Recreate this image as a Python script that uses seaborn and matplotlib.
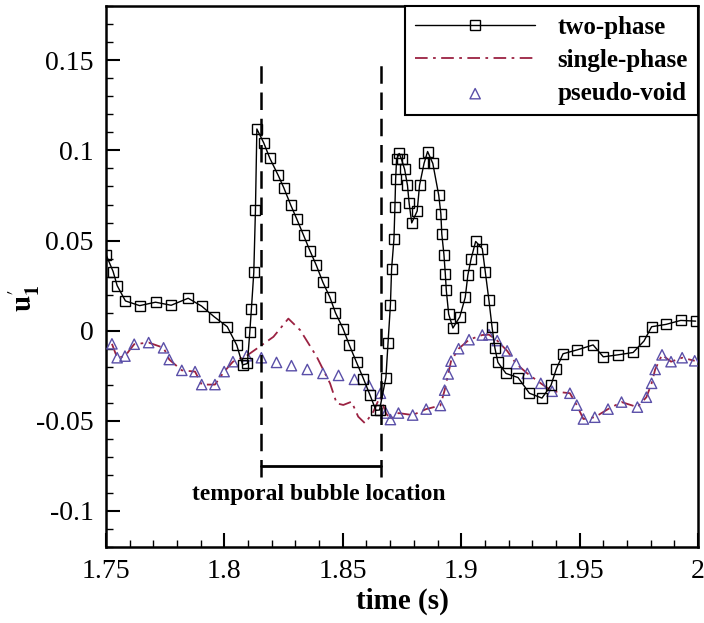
import matplotlib
matplotlib.use("Agg")
import matplotlib.pyplot as plt
import seaborn as sns
import numpy as np

sns.set_style("white")
plt.rcParams['font.family'] = ['Liberation Serif', 'DejaVu Serif']
plt.rcParams['mathtext.fontset'] = 'stix'
for k in ('text.color', 'axes.labelcolor', 'xtick.color', 'ytick.color'):
    plt.rcParams[k] = 'black'

# ---------------- data ----------------
two_t = [1.7500, 1.7530, 1.7547, 1.7582, 1.7642, 1.7709, 1.7775, 1.7847, 1.7904, 1.7957,
         1.8012, 1.8052, 1.8077, 1.8097, 1.8107, 1.8114, 1.8124, 1.8131, 1.8137, 1.8166,
         1.8192, 1.8227, 1.8251, 1.8280, 1.8306, 1.8334, 1.8361, 1.8388, 1.8416, 1.8445,
         1.8469, 1.8501, 1.8528, 1.8558, 1.8587, 1.8615, 1.8640, 1.8655, 1.8682, 1.8691,
         1.8701, 1.8706, 1.8716, 1.8720, 1.8723, 1.8727, 1.8738, 1.8748, 1.8761, 1.8773,
         1.8780, 1.8791, 1.8814, 1.8824, 1.8843, 1.8858, 1.8880, 1.8905, 1.8914, 1.8918,
         1.8927, 1.8933, 1.8937, 1.8947, 1.8965, 1.8994, 1.9017, 1.9028, 1.9042, 1.9061,
         1.9089, 1.9102, 1.9117, 1.9130, 1.9142, 1.9155, 1.9189, 1.9240, 1.9288, 1.9341,
         1.9379, 1.9402, 1.9430, 1.9491, 1.9557, 1.9600, 1.9662, 1.9726, 1.9772, 1.9804,
         1.9865, 1.9927, 1.9990]
two_u = [0.0422, 0.0328, 0.0250, 0.0165, 0.0139, 0.0158, 0.0141, 0.0180, 0.0136, 0.0077,
         0.0022, -0.0080, -0.0190, -0.0182, -0.0010, 0.0121, 0.0323, 0.0668, 0.1119, 0.1042,
         0.0956, 0.0862, 0.0792, 0.0697, 0.0618, 0.0530, 0.0444, 0.0363, 0.0268, 0.0187,
         0.0099, 0.0011, -0.0081, -0.0176, -0.0266, -0.0358, -0.0442, -0.0440, -0.0260, -0.0066,
         0.0143, 0.0343, 0.0510, 0.0686, 0.0840, 0.0950, 0.0983, 0.0950, 0.0895, 0.0807,
         0.0708, 0.0598, 0.0664, 0.0807, 0.0928, 0.0994, 0.0928, 0.0752, 0.0649, 0.0536,
         0.0422, 0.0312, 0.0224, 0.0092, 0.0015, 0.0077, 0.0185, 0.0308, 0.0400, 0.0495,
         0.0455, 0.0323, 0.0169, 0.0022, -0.0095, -0.0176, -0.0237, -0.0260, -0.0347, -0.0374,
         -0.0303, -0.0211, -0.0128, -0.0106, -0.0079, -0.0145, -0.0134, -0.0121, -0.0057, 0.0022,
         0.0035, 0.0057, 0.0053]

pv_t = [1.7525, 1.7547, 1.7580, 1.7619, 1.7680, 1.7743, 1.7767, 1.7820, 1.7876, 1.7904,
        1.7960, 1.7999, 1.8036, 1.8094, 1.8156, 1.8220, 1.8283, 1.8350, 1.8416, 1.8482,
        1.8549, 1.8610, 1.8659, 1.8682, 1.8701, 1.8735, 1.8795, 1.8852, 1.8912, 1.8930,
        1.8945, 1.8957, 1.8989, 1.9033, 1.9089, 1.9117, 1.9152, 1.9194, 1.9232, 1.9279,
        1.9336, 1.9384, 1.9459, 1.9488, 1.9516, 1.9564, 1.9620, 1.9677, 1.9744, 1.9782,
        1.9804, 1.9819, 1.9848, 1.9886, 1.9933, 1.9986]
pv_u = [-0.0073, -0.0150, -0.0141, -0.0075, -0.0066, -0.0095, -0.0160, -0.0220, -0.0227, -0.0299,
        -0.0299, -0.0227, -0.0172, -0.0139, -0.0150, -0.0176, -0.0194, -0.0215, -0.0237, -0.0248,
        -0.0270, -0.0303, -0.0347, -0.0457, -0.0493, -0.0457, -0.0468, -0.0435, -0.0415, -0.0330,
        -0.0240, -0.0169, -0.0100, -0.0050, -0.0024, -0.0022, -0.0055, -0.0112, -0.0183, -0.0237,
        -0.0292, -0.0336, -0.0347, -0.0413, -0.0490, -0.0480, -0.0435, -0.0396, -0.0424, -0.0369,
        -0.0292, -0.0215, -0.0134, -0.0172, -0.0150, -0.0167]

# single-phase differs from pseudo-void only inside the bubble window
sp_bubble_t = [1.8207, 1.8270, 1.8320, 1.8390, 1.8446, 1.8474, 1.8502, 1.8537, 1.8565, 1.8594,
               1.8629, 1.8657]
sp_bubble_u = [-0.0034, 0.0067, 0.0003, -0.0145, -0.0292, -0.0403, -0.0412, -0.0394, -0.0477, -0.0514,
               -0.0449, -0.0366]

bubble_start, bubble_end = 1.8155, 1.8663
bracket_y = -0.0748
label_text = "temporal bubble location"

sp_pairs = [(t, u) for t, u in zip(pv_t, pv_u) if t <= bubble_start or t >= 1.8680]
sp_pairs += list(zip(sp_bubble_t, sp_bubble_u))
sp_pairs.sort()
sp_t = [p[0] for p in sp_pairs]
sp_u = [p[1] for p in sp_pairs]

# ---------------- plot ----------------
fig = plt.figure(figsize=(7.04, 6.23), dpi=100)
ax = fig.add_axes([0.1506, 0.122, 0.8409, 0.868])

sp_color = '#9B2242'
pv_color = '#5A4FA8'

sns.lineplot(x=sp_t, y=sp_u, ax=ax, color=sp_color, lw=1.3, sort=False,
             label='single-phase', zorder=2)
ax.lines[-1].set_dashes([7, 3, 1.5, 3])
sns.lineplot(x=two_t, y=two_u, ax=ax, color='black', lw=1.0, sort=False,
             marker='s', markersize=7.5, markerfacecolor='none', markeredgecolor='black',
             markeredgewidth=1.0, label='two-phase', zorder=4)
sns.scatterplot(x=pv_t, y=pv_u, ax=ax, marker='^', s=55, facecolor='none',
                edgecolor=pv_color, linewidth=1.0, label='pseudo-void', zorder=3)

# bubble window markers
for xv in (bubble_start, bubble_end):
    ax.plot([xv, xv], [-0.081, 0.150], color='black', lw=1.8, dashes=(7, 3.5), zorder=5)
ax.plot([bubble_start, bubble_end], [bracket_y, bracket_y], color='black', lw=2.0, zorder=5)
ax.text((bubble_start + bubble_end) / 2 - 0.001, -0.0908, label_text, ha='center', va='center',
        fontsize=17, fontweight='bold')

ax.set_xlim(1.75, 2.0)
ax.set_ylim(-0.12, 0.18)
ax.set_xticks([1.75, 1.8, 1.85, 1.9, 1.95, 2.0])
ax.set_xticklabels(['1.75', '1.8', '1.85', '1.9', '1.95', '2'])
ax.set_yticks([-0.1, -0.05, 0, 0.05, 0.1, 0.15])
ax.set_yticklabels(['-0.1', '-0.05', '0', '0.05', '0.1', '0.15'])
ax.set_xticks(np.arange(1.75, 2.0001, 0.01), minor=True)
ax.set_yticks(np.arange(-0.12, 0.1801, 0.01), minor=True)
ax.tick_params(which='major', direction='in', length=10, width=1.5, labelsize=20,
               left=True, bottom=True, top=False, right=False, pad=9)
ax.tick_params(which='minor', direction='in', length=5, width=1.0,
               left=True, bottom=True, top=False, right=False)
for s in ax.spines.values():
    s.set_linewidth(1.8)
    s.set_color('black')

ax.set_xlabel('time (s)', fontsize=21, fontweight='bold', labelpad=2)
ax.set_ylabel(r"$\mathbf{u}^{\prime}_{\mathbf{1}}$", fontsize=21)
ax.yaxis.set_label_coords(-0.108, 0.46)

# legend ordering
h, l = ax.get_legend_handles_labels()
order = [l.index('two-phase'), l.index('single-phase'), l.index('pseudo-void')]
leg = ax.legend([h[i] for i in order], [l[i] for i in order], loc='upper right',
                borderaxespad=0.0, fancybox=False, framealpha=1, edgecolor='black',
                prop={'weight': 'bold', 'size': 18}, handlelength=4.8, handletextpad=0.9,
                labelspacing=0.4, borderpad=0.4, markerscale=1.0)
leg.get_frame().set_linewidth(1.5)

fig.savefig('out.png', dpi=100)
